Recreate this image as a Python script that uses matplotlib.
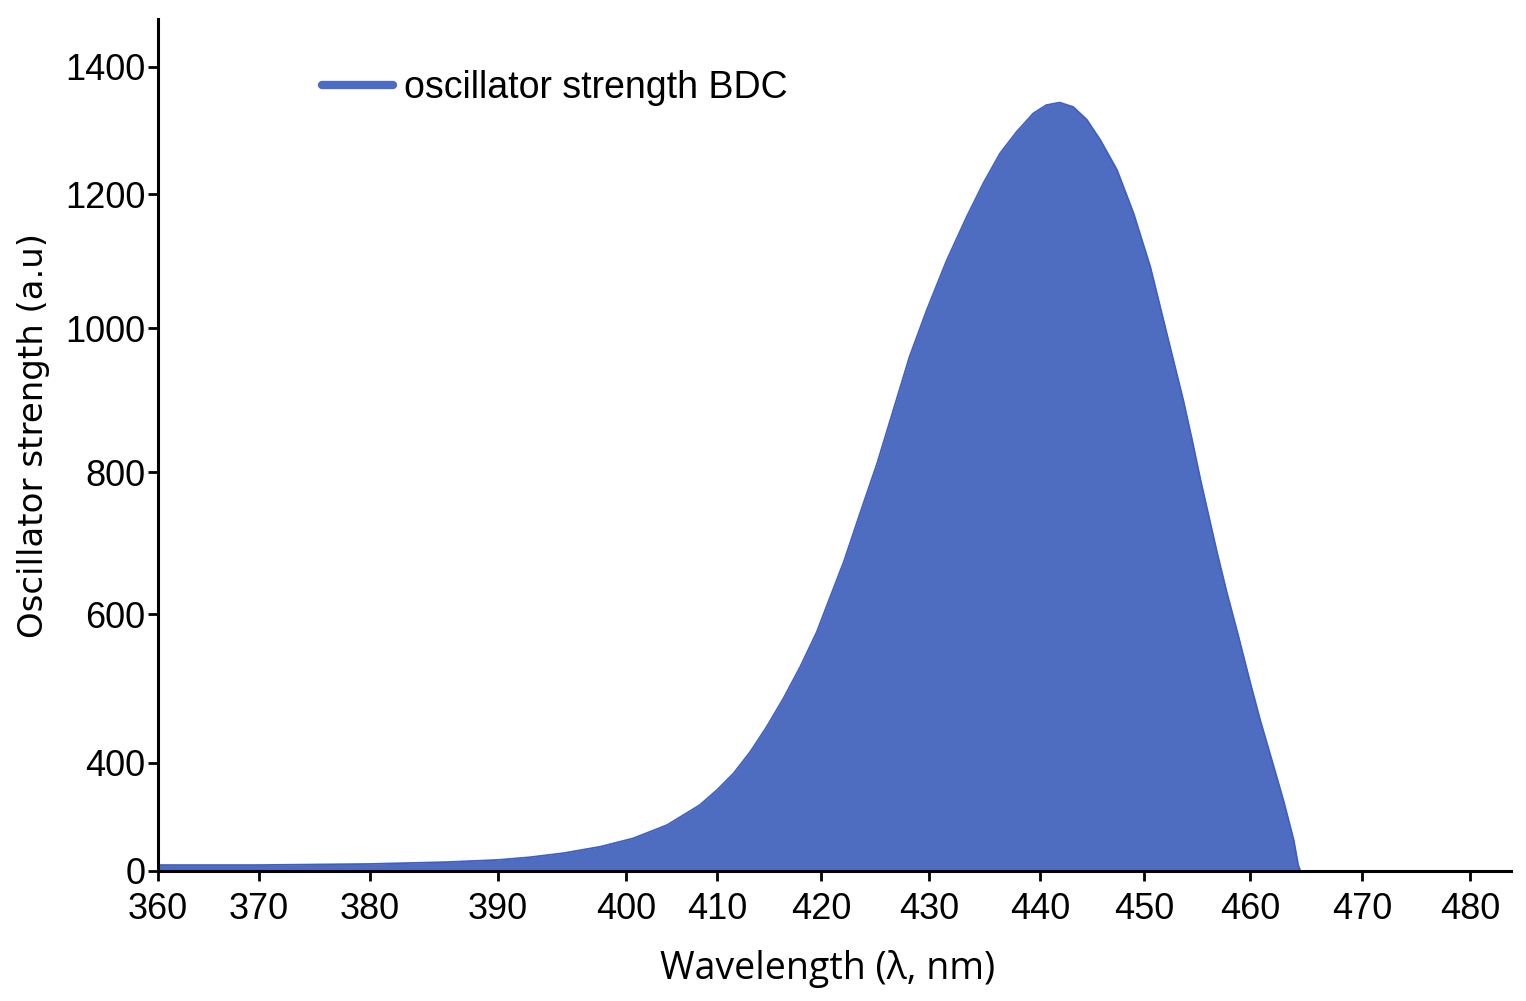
import numpy as np
import matplotlib
matplotlib.use("Agg")
import matplotlib.pyplot as plt
from matplotlib.lines import Line2D

# ---------------- data ----------------
wavelength = [360, 370, 380, 386.0, 390.0, 392.5, 395.1, 398.0, 400.8, 404.5,
              408.1, 410.0, 411.6, 413.2, 414.8, 416.4, 418.0, 419.6, 420.5,
              422.1, 423.6, 425.2, 426.7, 428.2, 429.8, 431.6, 433.4, 434.9,
              436.4, 437.9, 439.4, 440.6, 441.9, 443.2, 444.5, 445.8, 447.4,
              449.0, 450.6, 452.1, 453.7, 454.5, 455.3, 455.8, 456.9, 457.8,
              458.8, 460.0, 460.9, 462.1, 463.0, 463.9, 464.3, 464.5]
strength = [22, 22, 26, 33, 41, 51, 66, 90, 121, 170,
            244, 300, 362, 415, 449, 487, 529, 576, 610,
            673, 741, 812, 886, 960, 1027, 1101, 1166, 1217,
            1264, 1298, 1327, 1340, 1344, 1337, 1317, 1285, 1238,
            1171, 1091, 995, 900, 847, 791, 758, 686, 631,
            576, 509, 458, 389, 259, 115, 22, 0]
series_label = "oscillator strength BDC"

x_ticks = [360, 370, 380, 390, 400, 410, 420, 430, 440, 450, 460, 470, 480]
y_ticks = [0, 400, 600, 800, 1000, 1200, 1400]

# ---------------- non-uniform axis scales (as in original) ----------------
X_POS = [158, 259, 370, 498, 626, 717, 821, 929, 1040, 1144, 1250, 1362, 1470]
Y_POS = [0, 108, 257, 399, 543, 677, 804]


def make_pw(xs, ps):
    xs = np.asarray(xs, float)
    ps = np.asarray(ps, float)

    def f(v):
        v = np.asarray(v, float)
        out = np.interp(v, xs, ps)
        lo_slope = (ps[1] - ps[0]) / (xs[1] - xs[0])
        hi_slope = (ps[-1] - ps[-2]) / (xs[-1] - xs[-2])
        out = np.where(v < xs[0], ps[0] + (v - xs[0]) * lo_slope, out)
        out = np.where(v > xs[-1], ps[-1] + (v - xs[-1]) * hi_slope, out)
        return out
    return f


fx, ix = make_pw(x_ticks, X_POS), make_pw(X_POS, x_ticks)
fy, iy = make_pw(y_ticks, Y_POS), make_pw(Y_POS, y_ticks)

W, H = 1526, 1001
fig = plt.figure(figsize=(W / 100, H / 100), dpi=100)
ax = fig.add_axes([158 / W, 1 - 871 / H, (1511 - 158) / W, (871 - 19) / H])
ax.set_xscale("function", functions=(fx, ix))
ax.set_yscale("function", functions=(fy, iy))

fill_c = "#4e6cc0"
ax.fill_between(wavelength, 0, strength, color=fill_c, lw=0, zorder=2)
ax.plot(wavelength, strength, color="#3f60c2", lw=1.3, zorder=3,
        solid_joinstyle="round")

ax.set_xlim(360, float(ix(1511)))
ax.set_ylim(0, float(iy(852)))

ax.set_xticks(x_ticks)
ax.set_xticklabels([str(t) for t in x_ticks])
ax.set_yticks(y_ticks)
ax.set_yticklabels([str(t) for t in y_ticks])
ax.minorticks_off()

for s in ["top", "right"]:
    ax.spines[s].set_visible(False)
for s in ["left", "bottom"]:
    ax.spines[s].set_linewidth(2.2)
    ax.spines[s].set_color("black")
    ax.spines[s].set_zorder(5)

ax.tick_params(axis="both", direction="out", length=7, width=2, colors="black")
ax.tick_params(axis="x", pad=8)
ax.tick_params(axis="y", pad=2)
for lab in ax.get_xticklabels() + ax.get_yticklabels():
    lab.set_fontfamily(["Liberation Sans", "DejaVu Sans"])
    lab.set_fontsize(26)

ax.set_xlabel("Wavelength (λ, nm)", family=["Open Sans", "DejaVu Sans"], fontsize=27)
ax.xaxis.set_label_coords((828 - 158) / 1353, (871 - 950) / 852)
ax.set_ylabel("Oscillator strength (a.u)", family=["DejaVu Sans"], fontsize=24.5,
              va="center")
ax.yaxis.set_label_coords((34 - 158) / 1353, (871 - 435) / 852)

handle = Line2D([], [], color="#4a6bc6", lw=6, solid_capstyle="round")
leg = ax.legend([handle], [series_label], loc="center left",
                bbox_to_anchor=((322 - 158) / 1353, (871 - 88) / 852),
                frameon=False, borderaxespad=0, borderpad=0,
                handlelength=1.9, handletextpad=0.3,
                prop=dict(family=["Liberation Sans", "DejaVu Sans"], size=27))

fig.savefig("out.png", dpi=100, facecolor="white")
